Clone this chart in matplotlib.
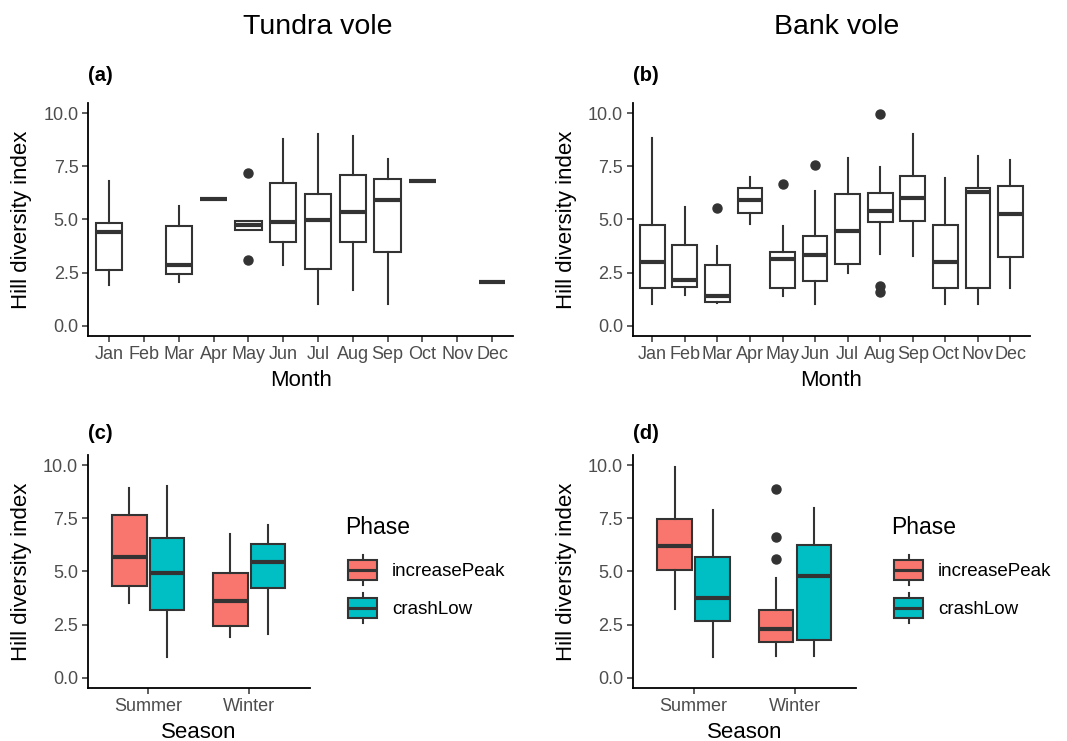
import matplotlib
matplotlib.use("Agg")
import matplotlib.pyplot as plt
from matplotlib.legend_handler import HandlerBase
from matplotlib.patches import Rectangle, Patch
from matplotlib.lines import Line2D

plt.rcParams['font.family'] = ['Liberation Sans', 'DejaVu Sans']

# ---- data ----
months = ["Jan", "Feb", "Mar", "Apr", "May", "Jun", "Jul", "Aug", "Sep", "Oct", "Nov", "Dec"]

# Tundra vole by month (None = no samples)
tv_lo  = [1.93, None, 2.05, 5.97, 4.48, 2.87, 1.03, 1.69, 1.03, 6.82, None, 2.05]
tv_q1  = [2.63, None, 2.45, 5.97, 4.48, 3.93, 2.66, 3.93, 3.46, 6.82, None, 2.05]
tv_med = [4.40, None, 2.84, 5.97, 4.75, 4.87, 4.98, 5.33, 5.92, 6.82, None, 2.05]
tv_q3  = [4.81, None, 4.67, 5.97, 4.94, 6.71, 6.19, 7.10, 6.90, 6.82, None, 2.05]
tv_hi  = [6.79, None, 5.61, 5.97, 4.94, 8.78, 9.03, 8.93, 7.85, 6.82, None, 2.05]
tv_out = [[], [], [], [], [7.21, 3.10], [], [], [], [], [], [], []]

# Bank vole by month
bv_lo  = [1.03, 1.43, 1.07, 4.78, 1.41, 1.03, 2.48, 3.39, 3.26, 1.03, 1.03, 1.77]
bv_q1  = [1.77, 1.80, 1.12, 5.30, 1.77, 2.12, 2.90, 4.87, 4.91, 1.76, 1.77, 3.23]
bv_med = [2.98, 2.16, 1.38, 5.92, 3.15, 3.32, 4.47, 5.38, 5.99, 2.99, 6.29, 5.27]
bv_q3  = [4.72, 3.79, 2.84, 6.47, 3.46, 4.23, 6.19, 6.24, 7.05, 4.76, 6.50, 6.57]
bv_hi  = [8.82, 5.58, 3.73, 6.99, 4.67, 6.36, 7.88, 7.45, 9.01, 6.97, 7.99, 7.81]
bv_out = [[], [], [5.53], [], [6.66], [7.57], [], [9.97, 1.85, 1.60], [], [], [], []]

seasons = ["Summer", "Winter"]
phases = ["increasePeak", "crashLow"]
phase_colors = ["#F8766D", "#00BFC4"]

# Tundra vole by season; rows = phase, columns = season
tvs_lo  = [[3.53, 1.90], [0.99, 2.05]]
tvs_q1  = [[4.31, 2.43], [3.20, 4.20]]
tvs_med = [[5.66, 3.62], [4.94, 5.45]]
tvs_q3  = [[7.65, 4.91], [6.55, 6.27]]
tvs_hi  = [[8.90, 6.76], [9.01, 7.18]]
tvs_out = [[[], []], [[], []]]

# Bank vole by season
bvs_lo  = [[3.24, 1.03], [0.99, 1.02]]
bvs_q1  = [[5.08, 1.69], [2.68, 1.77]]
bvs_med = [[6.21, 2.30], [3.76, 4.78]]
bvs_q3  = [[7.46, 3.18], [5.67, 6.24]]
bvs_hi  = [[9.92, 4.70], [7.88, 7.96]]
bvs_out = [[[], [8.86, 6.60, 5.58]], [[], []]]

# ---- style ----
W, H = 1067, 741
DARK = "#333333"
BOX_LW = 1.5
MED_LW = 3.0
YLIM = (-0.49, 10.47)


def build_stats(lo, q1, med, q3, hi, out):
    stats, pos = [], []
    for i in range(len(med)):
        if med[i] is None:
            continue
        stats.append(dict(whislo=lo[i], q1=q1[i], med=med[i], q3=q3[i],
                          whishi=hi[i], fliers=out[i]))
        pos.append(i + 1)
    return stats, pos


def draw_boxes(ax, stats, pos, width, color):
    ax.bxp(stats, positions=pos, widths=width, patch_artist=True,
           showcaps=False, manage_ticks=False,
           boxprops=dict(facecolor=color, edgecolor=DARK, linewidth=BOX_LW),
           whiskerprops=dict(color=DARK, linewidth=BOX_LW),
           medianprops=dict(color=DARK, linewidth=MED_LW, solid_capstyle='butt'),
           flierprops=dict(marker='o', markerfacecolor=DARK, markeredgecolor=DARK,
                           markersize=6.5))


def px_axes(fig, l, t, r, b):
    return fig.add_axes([l / W, 1 - b / H, (r - l) / W, (b - t) / H])


def style_axes(ax, xlabel):
    for s in ["top", "right"]:
        ax.spines[s].set_visible(False)
    for s in ["left", "bottom"]:
        ax.spines[s].set_linewidth(1.3)
        ax.spines[s].set_color("black")
    ax.tick_params(axis='both', length=4, width=1.1, color=DARK,
                   labelcolor="#4D4D4D", labelsize=13, pad=3)
    ax.set_ylim(*YLIM)
    ax.set_yticks([0, 2.5, 5, 7.5, 10])
    ax.set_yticklabels(["0.0", "2.5", "5.0", "7.5", "10.0"])
    ax.set_ylabel("Hill diversity index", fontsize=16, labelpad=8)
    ax.set_xlabel(xlabel, fontsize=16, labelpad=5)


class BoxKeyHandler(HandlerBase):
    def create_artists(self, legend, orig_handle, xdescent, ydescent,
                       width, height, fontsize, trans):
        x0, y0 = -xdescent, -ydescent
        fc = orig_handle.get_facecolor()
        whisk = Line2D([x0 + width / 2] * 2, [y0, y0 + height], color=DARK,
                       linewidth=BOX_LW, transform=trans)
        box = Rectangle((x0, y0 + height * 0.16), width, height * 0.68,
                        facecolor=fc, edgecolor=DARK, linewidth=BOX_LW,
                        transform=trans)
        med = Line2D([x0, x0 + width], [y0 + height / 2] * 2, color=DARK,
                     linewidth=BOX_LW * 1.5, solid_capstyle='butt',
                     transform=trans)
        return [whisk, box, med]


fig = plt.figure(figsize=(W / 100, H / 100), dpi=100)

# monthly panels
month_panels = [
    ("(a)", (88.3, 103.3, 513, 336), (tv_lo, tv_q1, tv_med, tv_q3, tv_hi, tv_out)),
    ("(b)", (632.7, 103.3, 1030, 336), (bv_lo, bv_q1, bv_med, bv_q3, bv_hi, bv_out)),
]
for tag, box, data in month_panels:
    ax = px_axes(fig, *box)
    stats, pos = build_stats(*data)
    draw_boxes(ax, stats, pos, 0.76, "white")
    ax.set_xlim(0.4, len(months) + 0.6)
    ax.set_xticks(range(1, len(months) + 1))
    ax.set_xticklabels(months)
    style_axes(ax, "Month")
    ax.text(0.0, 1.12, tag, transform=ax.transAxes, fontsize=14.5,
            fontweight='bold', ha='left', va='center')

# seasonal panels
dodge = 0.1875
season_panels = [
    ("(c)", (87.7, 455, 310, 688.3), 345, (tvs_lo, tvs_q1, tvs_med, tvs_q3, tvs_hi, tvs_out)),
    ("(d)", (632.7, 455, 856, 688.3), 891, (bvs_lo, bvs_q1, bvs_med, bvs_q3, bvs_hi, bvs_out)),
]
for tag, box, leg_x, data in season_panels:
    ax = px_axes(fig, *box)
    for k, col in enumerate(phase_colors):
        rows = [d[k] for d in data]
        stats, pos = build_stats(*rows)
        pos = [p + (2 * k - 1) * dodge for p in pos]
        draw_boxes(ax, stats, pos, 0.34, col)
    ax.set_xlim(0.4, len(seasons) + 0.6)
    ax.set_xticks(range(1, len(seasons) + 1))
    ax.set_xticklabels(seasons)
    style_axes(ax, "Season")
    ax.text(0.0, 1.094, tag, transform=ax.transAxes, fontsize=14.5,
            fontweight='bold', ha='left', va='center')
    # legend: title as its own text, keys below it
    fig.text(leg_x / W, 1 - 528 / H, "Phase", fontsize=16.5, ha='left', va='center')
    handles = [Patch(facecolor=c) for c in phase_colors]
    ax.legend(handles, phases, handler_map={Patch: BoxKeyHandler()},
              loc='upper left', bbox_to_anchor=((leg_x + 3) / W, 1 - 555 / H),
              bbox_transform=fig.transFigure, frameon=False,
              fontsize=13.5, handlelength=1.55, handleheight=2.1,
              labelspacing=0.42, handletextpad=0.8, borderpad=0,
              borderaxespad=0)

fig.text(318 / W, 1 - 27 / H, "Tundra vole", fontsize=20.5, ha='center', va='center')
fig.text(837 / W, 1 - 27 / H, "Bank vole", fontsize=20.5, ha='center', va='center')

fig.savefig("out.png", dpi=100)
